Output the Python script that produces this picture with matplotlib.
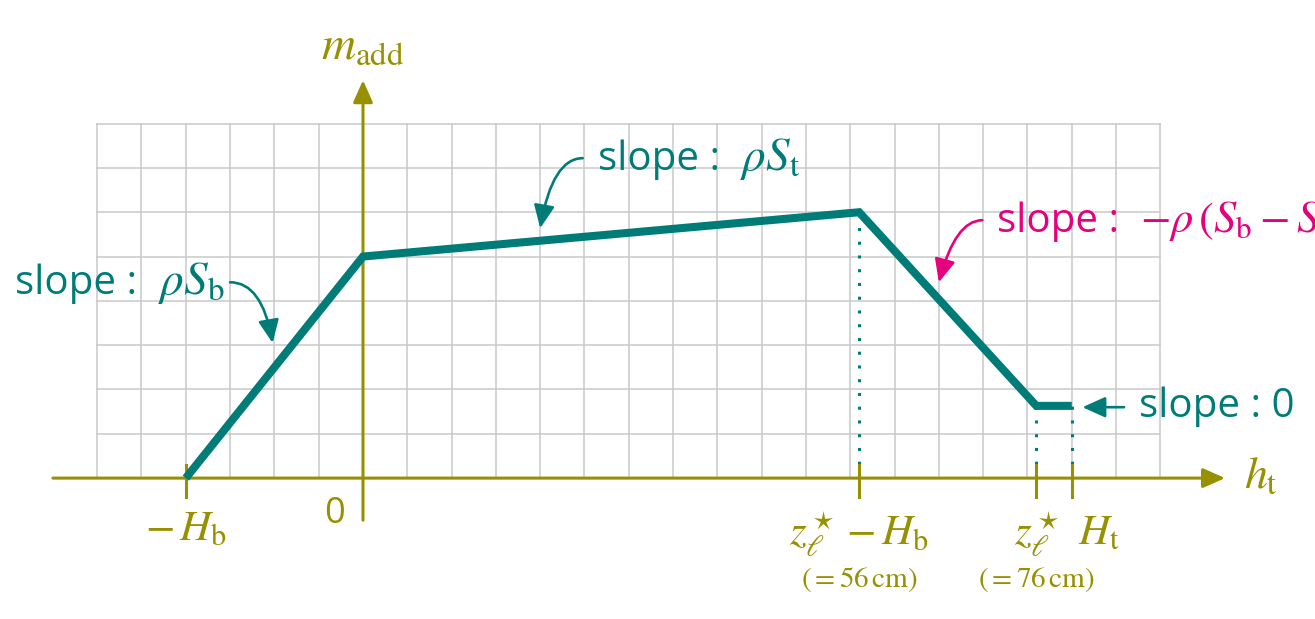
import numpy as np
import matplotlib
matplotlib.use("Agg")
import matplotlib.pyplot as plt

# break points of the added-mass curve (h in cm, m in grid units)
h_break = [-20, 0, 56, 76, 80]
m_break = [0, 5, 6, 1.63, 1.63]

# dotted drop lines from these curve points
drop_h = [56, 76, 80]
drop_m = [6, 1.63, 1.63]

# x-axis ticks and their labels
tick_h = [-20, 56, 76, 80]
tick_labels = [r"$-\,H_\mathrm{b}$", r"$z_\ell^\star - H_\mathrm{b}$",
               r"$z_\ell^\star$", r"$H_\mathrm{t}$"]
note_h = [56, 76]
note_labels = [r"$(=56\,\mathrm{cm})$", r"$(=76\,\mathrm{cm})$"]

OLIVE = "#979000"
TEAL = "#007c78"
MAGENTA = "#e6007e"
GRID = "#c9c9c9"

plt.rcParams["font.family"] = ["Open Sans", "DejaVu Sans"]
plt.rcParams["mathtext.fontset"] = "stix"

fig = plt.figure(figsize=(13.15, 6.19), dpi=100)
ax = fig.add_axes([0, 0, 1, 1])
ax.set_xlim(-40.97, 107.45)
ax.set_ylim(-3.18, 10.79)
ax.axis("off")

# background grid
for gx in np.arange(-30, 91, 5):
    ax.plot([gx, gx], [0, 8], color=GRID, lw=1.1, zorder=1)
for gy in np.arange(1, 9):
    ax.plot([-30, 90], [gy, gy], color=GRID, lw=1.1, zorder=1)

# axes with arrows
axis_arrow = dict(arrowstyle="-|>,head_length=0.9,head_width=0.4",
                  color=OLIVE, lw=2.2, mutation_scale=15,
                  shrinkA=0, shrinkB=0)
ax.annotate("", xy=(97.3, 0), xytext=(-35, 0), arrowprops=axis_arrow, zorder=3)
ax.annotate("", xy=(0, 8.98), xytext=(0, -0.95), arrowprops=axis_arrow, zorder=3)

# ticks
for th in tick_h:
    ax.plot([th, th], [0.3, -0.43], color=OLIVE, lw=2.2, zorder=3)

# dotted drop lines
for dh, dm in zip(drop_h, drop_m):
    ax.plot([dh, dh], [0, dm], color=TEAL, lw=2.2,
            linestyle=(0, (1, 3.5)), zorder=2)

# the curve
ax.plot(h_break, m_break, color=TEAL, lw=5.8, solid_joinstyle="miter",
        solid_capstyle="butt", zorder=4)

# axis labels
ax.text(0, 9.72, r"$m_\mathrm{add}$", color=OLIVE, fontsize=34,
        ha="center", va="center")
ax.text(99.4, 0.05, r"$h_\mathrm{t}$", color=OLIVE, fontsize=33,
        ha="left", va="center")
ax.text(-3.2, -0.8, "0", color=OLIVE, fontsize=26, ha="center", va="center")

ax.text(-20, -1.15, tick_labels[0], color=OLIVE, fontsize=31,
        ha="center", va="center")
ax.text(56, -1.25, tick_labels[1], color=OLIVE, fontsize=31,
        ha="center", va="center")
ax.text(76, -1.25, tick_labels[2], color=OLIVE, fontsize=31,
        ha="center", va="center")
ax.text(80.7, -1.25, tick_labels[3], color=OLIVE, fontsize=31,
        ha="left", va="center")
for nh, nl in zip(note_h, note_labels):
    ax.text(nh, -2.28, nl, color=OLIVE, fontsize=21, ha="center", va="center")


# slope annotations: words in sans, formula in the math font
def slope_text(x, x_math, y, formula, color, size=34):
    ax.text(x, y, "slope :", color=color, fontsize=29, va="baseline")
    if formula:
        ax.text(x_math, y, formula, color=color, fontsize=size, va="baseline")


slope_text(-39.3, -23.1, 4.15, r"$\rho S_\mathrm{b}$", TEAL)
slope_text(26.5, 42.6, 6.95, r"$\rho S_\mathrm{t}$", TEAL)
slope_text(71.6, 87.7, 5.55,
           r"$-\rho\,(S_\mathrm{b}-S_\mathrm{t})$", MAGENTA, size=32)
ax.text(87.6, 1.38, "slope : 0", color=TEAL, fontsize=29, va="baseline")


def note_arrow(start, end, color, conn):
    ax.annotate("", xy=end, xytext=start,
                arrowprops=dict(arrowstyle="-|>,head_length=1.0,head_width=0.45",
                                color=color, lw=1.9, mutation_scale=14,
                                shrinkA=0, shrinkB=0, connectionstyle=conn),
                zorder=5)


note_arrow((-15.0, 4.42), (-10.2, 3.05), TEAL, "angle3,angleA=0,angleB=100")
note_arrow((24.8, 7.22), (20.0, 5.64), TEAL, "angle3,angleA=0,angleB=80")
note_arrow((69.9, 5.82), (65.0, 4.42), MAGENTA, "angle3,angleA=0,angleB=75")
note_arrow((85.9, 1.6), (81.2, 1.6), TEAL, "arc3,rad=0")

fig.savefig("out.png", dpi=100)
